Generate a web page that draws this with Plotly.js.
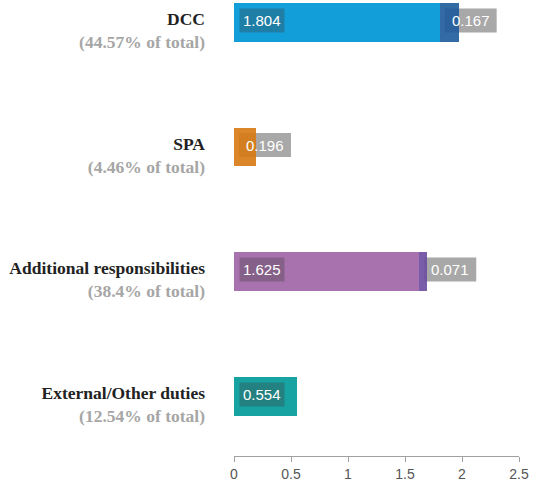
<!DOCTYPE html>
<html><head><meta charset="utf-8">
<script src="https://cdn.plot.ly/plotly-3.0.1.min.js"></script>
<style>html,body{margin:0;padding:0;background:#fff;}#chart{width:538px;height:487px;}</style>
</head><body><div id="chart"></div>
<script>
const categories = ["DCC", "SPA", "Additional responsibilities", "External/Other duties"];
const percents = ["44.57", "4.46", "38.4", "12.54"];
const primary = [1.804, 0, 1.625, 0.554];
const secondary = [0.167, 0.196, 0.071, 0];
const primaryColors = ["#129ed9", "#e0801a", "#a872ae", "#18a3a3"];
const secondaryColors = ["#1e5b9c", "#d77a12", "#6a4b9e", "#117f80"];
const xTicks = [0, 0.5, 1, 1.5, 2, 2.5];

const tickText = categories.map((c, i) =>
  "<b>" + c + "</b><br><b><span style='color:#a6a6a6'>(" + percents[i] + "% of total)</span></b>");

const traces = [
  {type: "bar", orientation: "h", y: categories, x: primary,
   marker: {color: primaryColors}, width: 0.31, hoverinfo: "skip"},
  {type: "bar", orientation: "h", y: categories, x: secondary,
   marker: {color: secondaryColors}, opacity: 0.9, width: 0.31, hoverinfo: "skip"}
];

const annotations = [];
const shapes = [];
categories.forEach((c, i) => {
  if (primary[i] > 0) {
    annotations.push({x: 0, y: c, xref: "x", yref: "y", xanchor: "left", yanchor: "middle",
      xshift: 5, yshift: 2, text: primary[i].toFixed(3), showarrow: false,
      font: {family: "Liberation Sans, Arial, sans-serif", size: 15, color: "#ffffff"},
      bgcolor: "rgba(60,60,60,0.32)", borderpad: 3});
  }
  if (secondary[i] > 0) {
    shapes.push({type: "rect", layer: "below", xref: "x", yref: "y",
      xsizemode: "pixel", ysizemode: "pixel", xanchor: primary[i], yanchor: i,
      x0: 5, x1: 57, y0: -10, y1: 14, fillcolor: "#a8a8a8", line: {width: 0}});
    annotations.push({x: primary[i], y: c, xref: "x", yref: "y", xanchor: "left", yanchor: "middle",
      xshift: 10, yshift: 2, text: secondary[i].toFixed(3), showarrow: false,
      font: {family: "Liberation Sans, Arial, sans-serif", size: 15, color: "#ffffff"}});
  }
});

const layout = {
  width: 538, height: 487,
  margin: {l: 234, r: 19, t: 0, b: 31},
  paper_bgcolor: "#ffffff", plot_bgcolor: "#ffffff",
  barmode: "stack", showlegend: false,
  xaxis: {range: [0, 2.5], tickvals: xTicks, ticktext: xTicks.map(String),
    showgrid: false, zeroline: false, showline: true, linecolor: "#a0a0a0", linewidth: 1,
    ticks: "outside", ticklen: 5, tickcolor: "#a0a0a0",
    tickfont: {family: "Liberation Sans, Arial, sans-serif", size: 14, color: "#555555"}},
  yaxis: {type: "category", range: [3.48, -0.18], tickvals: categories, ticktext: tickText,
    showgrid: false, zeroline: false, showline: false, ticks: "",
    ticklabelstandoff: 28, ticklabelshift: -8,
    tickfont: {family: "Liberation Serif, Times New Roman, serif", size: 17.5, color: "#222222"}},
  shapes: shapes,
  annotations: annotations
};

Plotly.newPlot("chart", traces, layout, {displayModeBar: false, staticPlot: true});
</script></body></html>
